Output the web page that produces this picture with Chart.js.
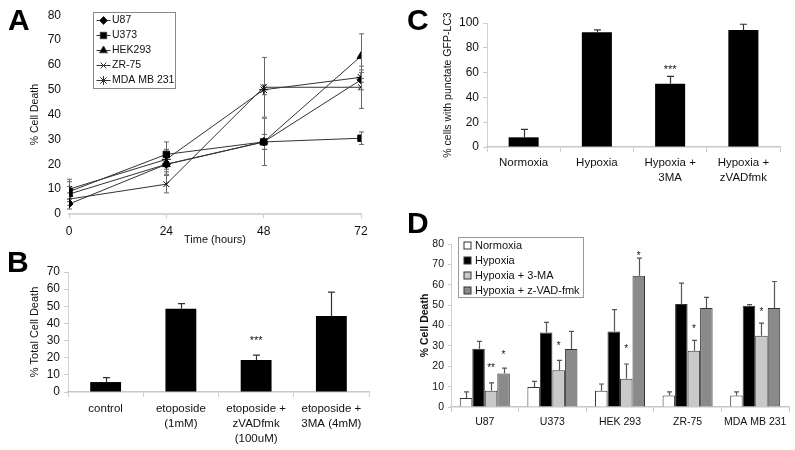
<!DOCTYPE html>
<html>
<head>
<meta charset="utf-8">
<title>Cell death panels</title>
<script src="https://cdn.jsdelivr.net/npm/chart.js@4.4.1/dist/chart.umd.min.js"></script>
<style>
  html, body { margin: 0; padding: 0; background: #fff; }
  body { width: 795px; height: 450px; position: relative; overflow: hidden;
         font-family: 'Liberation Sans', Arial, sans-serif; }
  .panel { position: absolute; }
  .letter { position: absolute; font-weight: bold; font-size: 30px; line-height: 1; color: #000; }
</style>
</head>
<body>
<canvas id="chart-a" class="panel" width="375" height="250" style="left:0;top:0"></canvas>
<canvas id="chart-b" class="panel" width="375" height="210" style="left:0;top:240px"></canvas>
<canvas id="chart-c" class="panel" width="395" height="200" style="left:400px;top:0"></canvas>
<canvas id="chart-d" class="panel" width="395" height="250" style="left:400px;top:200px"></canvas>
<div class="letter" style="left:8px;top:5px">A</div>
<div class="letter" style="left:7px;top:247px">B</div>
<div class="letter" style="left:407px;top:5px">C</div>
<div class="letter" style="left:407px;top:208px">D</div>

<script>
// ---- Panel A: % cell death over time ----
const hours = [0, 24, 48, 72];
const u87 = [4, 20, 29, 54];
const u373 = [9, 24, 29, 30.5];
const hek293 = [8, 20, 29, 63.5];
const zr75 = [6, 12, 51, 51];
const mda231 = [10, 22, 50, 55];
const u87Err = [2, 3, 9.5, 4];
const u373Err = [4, 5, 3, 2.5];
const hek293Err = [3, 4, 3, 9];
const zr75Err = [2.5, 3.5, 12, 8.5];
const mda231Err = [4, 4, 2, 2];

// ---- Panel B: etoposide treatments ----
const etoLabels = [['control'], ['etoposide', '(1mM)'], ['etoposide +', 'zVADfmk', '(100uM)'], ['etoposide +', '3MA (4mM)']];
const etoDeath = [5.8, 48.5, 18.7, 44.3];
const etoErr = [2.6, 3, 2.8, 14];

// ---- Panel C: punctate GFP-LC3 ----
const lc3Labels = [['Normoxia'], ['Hypoxia'], ['Hypoxia +', '3MA'], ['Hypoxia +', 'zVADfmk']];
const lc3Punctate = [7.8, 92.5, 51, 94.4];
const lc3Err = [6.4, 2, 6, 4.6];

// ---- Panel D: hypoxia in cell lines ----
const cellLines = ['U87', 'U373', 'HEK 293', 'ZR-75', 'MDA MB 231'];
const normoxia = [4.4, 9.8, 8, 5.7, 5.7];
const normoxiaErr = [3, 2.8, 3.3, 1.7, 1.7];
const hypoxia = [28.6, 36.6, 37.1, 50.5, 49.7];
const hypoxiaErr = [3.6, 4.9, 10.7, 10.3, 0.5];
const hyp3ma = [8, 18, 13.9, 27.6, 35];
const hyp3maErr = [3.8, 4.9, 7.2, 5.1, 6.2];
const hypZvad = [16.5, 28.5, 64.4, 48.6, 48.6];
const hypZvadErr = [2.6, 8.6, 8.7, 5.2, 13];

const FONT = "'Liberation Sans', Arial, sans-serif";
Chart.defaults.font.family = FONT;
Chart.defaults.color = '#111';
Chart.defaults.animation = false;

// draw error bars from the dataset value +/- the matching error array
function drawErrors(chart, opts) {
  const ctx = chart.ctx;
  const yScale = chart.scales.y;
  ctx.save();
  ctx.strokeStyle = opts.color;
  ctx.lineWidth = opts.width;
  opts.errors.forEach((errs, d) => {
    const meta = chart.getDatasetMeta(d);
    const data = chart.data.datasets[d].data;
    meta.data.forEach((el, i) => {
      const v = typeof data[i] === 'object' ? data[i].y : data[i];
      const x = Math.round(el.x) + 0.5;
      const top = yScale.getPixelForValue(v + errs[i]);
      const bottom = opts.both ? yScale.getPixelForValue(v - errs[i]) : el.y;
      ctx.beginPath();
      ctx.moveTo(x, bottom);
      ctx.lineTo(x, top);
      ctx.moveTo(x - opts.cap, top);
      ctx.lineTo(x + opts.cap, top);
      if (opts.both) {
        ctx.moveTo(x - opts.cap, bottom);
        ctx.lineTo(x + opts.cap, bottom);
      }
      ctx.stroke();
    });
  });
  ctx.restore();
}

const errorBars = {
  id: 'errorBars',
  beforeDatasetsDraw(chart, args, opts) {
    if (opts.errors && opts.behind) drawErrors(chart, opts);
  },
  afterDatasetsDraw(chart, args, opts) {
    if (opts.errors && !opts.behind) drawErrors(chart, opts);
  }
};

// significance asterisks above the error bar caps
const sigMarks = {
  id: 'sigMarks',
  afterDatasetsDraw(chart, args, opts) {
    if (!opts.marks) return;
    const errs = chart.options.plugins.errorBars.errors;
    const ctx = chart.ctx;
    ctx.save();
    ctx.font = opts.size + 'px ' + FONT;
    ctx.fillStyle = '#111';
    ctx.textAlign = 'center';
    ctx.textBaseline = 'alphabetic';
    opts.marks.forEach(m => {
      const el = chart.getDatasetMeta(m.set).data[m.index];
      const v = chart.data.datasets[m.set].data[m.index];
      const top = chart.scales.y.getPixelForValue(v + errs[m.set][m.index]);
      ctx.fillText(m.text, el.x, top - m.lift + 0.57 * opts.size);
    });
    ctx.restore();
  }
};

// framed legend placed inside the plot
const boxLegend = {
  id: 'boxLegend',
  afterDraw(chart, args, opts) {
    if (!opts.box) return;
    const ctx = chart.ctx;
    const b = opts.box;
    ctx.save();
    ctx.fillStyle = '#fff';
    ctx.fillRect(b.x, b.y, b.w, b.h);
    ctx.strokeStyle = opts.borderColor;
    ctx.lineWidth = 1;
    ctx.strokeRect(b.x + 0.5, b.y + 0.5, b.w, b.h);
    ctx.font = opts.size + 'px ' + FONT;
    ctx.textBaseline = 'middle';
    ctx.textAlign = 'left';
    chart.data.datasets.forEach((ds, k) => {
      const cy = Math.round(b.y + opts.first + k * opts.step) + 0.5;
      const mx = b.x + opts.markX;
      if (opts.kind === 'line') {
        ctx.strokeStyle = ds.borderColor;
        ctx.lineWidth = 1;
        ctx.beginPath();
        ctx.moveTo(mx - 7, cy);
        ctx.lineTo(mx + 7, cy);
        ctx.stroke();
        ctx.fillStyle = ds.pointBackgroundColor;
        Chart.helpers.drawPoint(ctx, { pointStyle: ds.pointStyle, radius: ds.pointRadius, rotation: 0, borderWidth: 1 }, mx, cy);
      } else {
        ctx.fillStyle = ds.backgroundColor;
        ctx.strokeStyle = '#333';
        ctx.fillRect(mx - 3.5, cy - 3.5, 7, 7);
        ctx.strokeRect(mx - 3.5, cy - 3.5, 7, 7);
      }
      ctx.fillStyle = '#111';
      ctx.fillText(ds.label, b.x + opts.textX, cy);
    });
    ctx.restore();
  }
};

Chart.register(errorBars, sigMarks, boxLegend);

function fixWidth(w) { return scale => { scale.width = w; }; }
function fixHeight(h) { return scale => { scale.height = h; }; }

// ---------- A ----------
const lineNames = ['U87', 'U373', 'HEK293', 'ZR-75', 'MDA MB 231'];
const lineSeries = [u87, u373, hek293, zr75, mda231];
const lineErrs = [u87Err, u373Err, hek293Err, zr75Err, mda231Err];
const markers = ['rectRot', 'rect', 'triangle', 'crossRot', 'star'];
const markerSize = [4, 4.5, 4.5, 4, 4.5];

new Chart(document.getElementById('chart-a'), {
  type: 'line',
  data: {
    datasets: lineSeries.map((vals, k) => ({
      label: lineNames[k],
      data: hours.map((h, i) => ({ x: h, y: vals[i] })),
      borderColor: '#333',
      borderWidth: 1,
      pointStyle: markers[k],
      pointRadius: markerSize[k],
      pointBackgroundColor: '#000',
      pointBorderColor: '#000',
      pointBorderWidth: 1,
      tension: 0
    }))
  },
  options: {
    responsive: false,
    layout: { padding: { top: 12, right: 14, left: 0, bottom: 0 } },
    plugins: {
      legend: { display: false },
      tooltip: { enabled: false },
      errorBars: { errors: lineErrs, both: true, cap: 2.5, color: '#666', width: 1, behind: true },
      boxLegend: { kind: 'line', box: { x: 93, y: 12, w: 82, h: 76 }, first: 8, step: 15,
                   markX: 10.5, textX: 19, size: 10.5, borderColor: '#888' }
    },
    scales: {
      x: {
        type: 'linear', min: 0, max: 72,
        afterFit: fixHeight(36),
        ticks: { stepSize: 24, font: { size: 12 }, padding: 6 },
        grid: { drawOnChartArea: false, tickLength: 4, color: '#ccc' },
        border: { color: '#d6d6d6', width: 2 },
        title: { display: true, text: 'Time (hours)', font: { size: 11 }, padding: { bottom: 3 } }
      },
      y: {
        min: 0, max: 80,
        afterFit: fixWidth(69),
        ticks: { stepSize: 10, font: { size: 12 }, padding: 8, autoSkip: false },
        grid: { display: false, drawTicks: false },
        border: { display: false },
        title: { display: true, text: '% Cell Death', font: { size: 10.5 }, padding: { top: 29 } }
      }
    }
  }
});

// shared look of the bar panels
function barScales(opts) {
  return {
    x: {
      afterFit: fixHeight(opts.xh),
      ticks: { font: { size: opts.xfont, lineHeight: opts.lh }, padding: opts.xpad, maxRotation: 0, autoSkip: false },
      grid: { drawOnChartArea: false, tickLength: 5, color: '#ccc', offset: true },
      border: { color: '#c8c8c8', width: 1.5 }
    },
    y: {
      min: 0, max: opts.max,
      afterFit: fixWidth(opts.yw),
      ticks: { stepSize: opts.step, font: { size: opts.yfont }, padding: 4, autoSkip: false },
      grid: { drawOnChartArea: false, tickLength: opts.tl, color: '#ccc' },
      border: { color: '#d0d0d0', width: 1 },
      title: { display: true, text: opts.title, font: { size: opts.tfont, weight: opts.tweight }, padding: { top: opts.tpad } }
    }
  };
}

// ---------- B ----------
new Chart(document.getElementById('chart-b'), {
  type: 'bar',
  data: {
    labels: etoLabels,
    datasets: [{ label: 'Total cell death', data: etoDeath, backgroundColor: '#000',
                 barPercentage: 1, categoryPercentage: 0.41 }]
  },
  options: {
    responsive: false,
    layout: { padding: { top: 32, right: 6, left: 0, bottom: 0 } },
    plugins: {
      legend: { display: false },
      tooltip: { enabled: false },
      errorBars: { errors: [etoErr], both: false, cap: 3.5, color: '#333', width: 1.2 },
      sigMarks: { size: 11, marks: [{ set: 0, index: 2, text: '***', lift: 17 }] }
    },
    scales: barScales({ xh: 58, xfont: 11.5, lh: 1.3, xpad: 4, max: 70, yw: 68, step: 10, yfont: 12, tl: 4,
                        title: '% Total Cell Death', tfont: 11, tweight: 'normal', tpad: 28.5 })
  }
});

// ---------- C ----------
new Chart(document.getElementById('chart-c'), {
  type: 'bar',
  data: {
    labels: lc3Labels,
    datasets: [{ label: 'Punctate GFP-LC3', data: lc3Punctate, backgroundColor: '#000',
                 barPercentage: 1, categoryPercentage: 0.41 }]
  },
  options: {
    responsive: false,
    layout: { padding: { top: 23, right: 15, left: 0, bottom: 0 } },
    plugins: {
      legend: { display: false },
      tooltip: { enabled: false },
      errorBars: { errors: [lc3Err], both: false, cap: 3.5, color: '#333', width: 1.2 },
      sigMarks: { size: 11, marks: [{ set: 0, index: 2, text: '***', lift: 10 }] }
    },
    scales: barScales({ xh: 53, xfont: 11.5, lh: 1.25, xpad: 4, max: 100, yw: 87, step: 20, yfont: 12, tl: 4,
                        title: '% cells with punctate GFP-LC3', tfont: 10.5, tweight: 'normal', tpad: 41.5 })
  }
});

// ---------- D ----------
const dBorder = '#333';
new Chart(document.getElementById('chart-d'), {
  type: 'bar',
  data: {
    labels: cellLines,
    datasets: [
      { label: 'Normoxia', data: normoxia, backgroundColor: '#fff' },
      { label: 'Hypoxia', data: hypoxia, backgroundColor: '#000' },
      { label: 'Hypoxia + 3-MA', data: hyp3ma, backgroundColor: '#c9c9c9' },
      { label: 'Hypoxia + z-VAD-fmk', data: hypZvad, backgroundColor: '#8a8a8a' }
    ].map(ds => Object.assign(ds, { borderColor: dBorder, borderWidth: 1, barPercentage: 1, categoryPercentage: 0.74 }))
  },
  options: {
    responsive: false,
    layout: { padding: { top: 44, right: 6, left: 0, bottom: 0 } },
    plugins: {
      legend: { display: false },
      tooltip: { enabled: false },
      errorBars: { errors: [normoxiaErr, hypoxiaErr, hyp3maErr, hypZvadErr], both: false, cap: 2.5, color: '#555', width: 1.2 },
      sigMarks: { size: 10, marks: [
        { set: 2, index: 0, text: '**', lift: 18 },
        { set: 3, index: 0, text: '*', lift: 15.5 },
        { set: 2, index: 1, text: '*', lift: 17.5 },
        { set: 2, index: 2, text: '*', lift: 17.5 },
        { set: 3, index: 2, text: '*', lift: 5 },
        { set: 2, index: 3, text: '*', lift: 14.5 },
        { set: 2, index: 4, text: '*', lift: 13.5 }
      ] },
      boxLegend: { kind: 'box', box: { x: 58, y: 37, w: 125, h: 60 }, first: 7.5, step: 15,
                   markX: 9.5, textX: 17, size: 11, borderColor: '#999' }
    },
    scales: barScales({ xh: 43, xfont: 10.5, lh: 1.2, xpad: 4, max: 80, yw: 51, step: 10, yfont: 10.5, tl: 3,
                        title: '% Cell Death', tfont: 10.5, tweight: 'bold', tpad: 18.5 })
  }
});
</script>
</body>
</html>
